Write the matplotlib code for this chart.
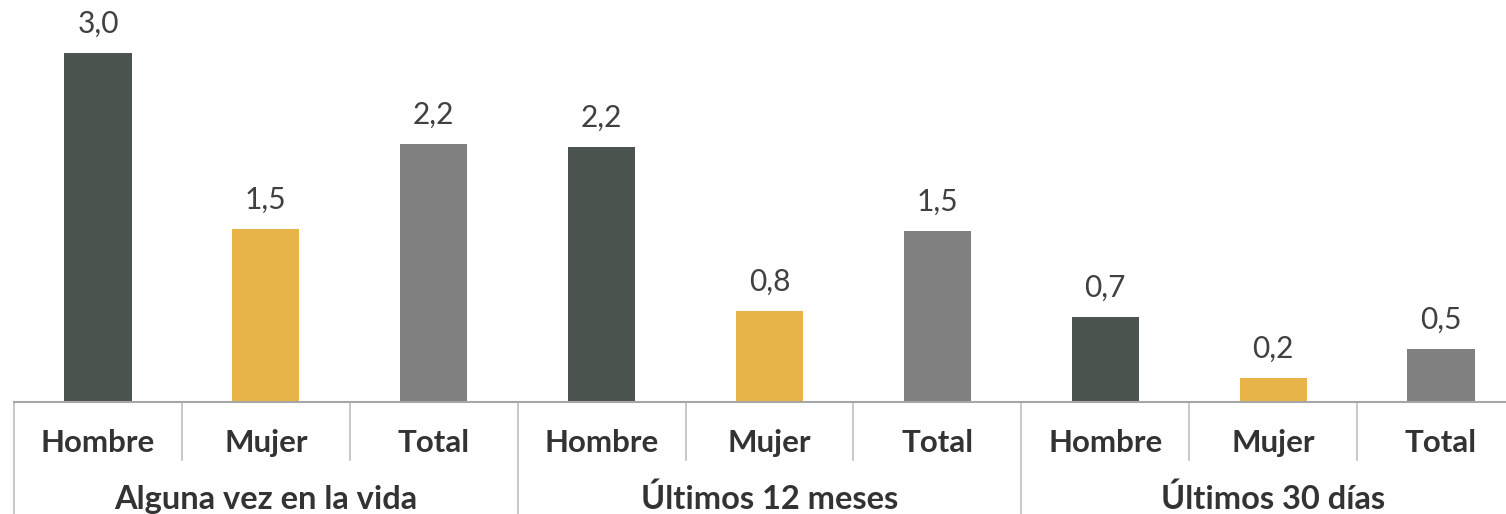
import numpy as np
import matplotlib
matplotlib.use("Agg")
import matplotlib.pyplot as plt
import matplotlib.transforms as mtransforms

# Data
groups = ["Alguna vez en la vida", "Últimos 12 meses", "Últimos 30 días"]
sexes = ["Hombre", "Mujer", "Total"]
values = [3.0, 1.49, 2.22, 2.19, 0.78, 1.47, 0.73, 0.21, 0.46]
labels = ["3,0", "1,5", "2,2", "2,2", "0,8", "1,5", "0,7", "0,2", "0,5"]
colors = ["#4a534d", "#e8b44a", "#808080"]

plt.rcParams['font.family'] = ['Lato', 'DejaVu Sans']

W, H = 1506, 514
fig = plt.figure(figsize=(W / 100, H / 100), dpi=100)

# axes spans past the right edge, the reference is cropped there
left_px, right_px = 14, 1525
base_px, top_px = 402, 7
ax = fig.add_axes([left_px / W, (H - base_px) / H,
                   (right_px - left_px) / W, (base_px - top_px) / H])
ax_h = base_px - top_px

x = np.arange(len(values))
bar_colors = [colors[i % 3] for i in x]
ax.bar(x, values, width=0.4, color=bar_colors, zorder=2)

for xi, v, lab in zip(x, values, labels):
    ax.annotate(lab, (xi, v), xytext=(0, 21), textcoords='offset points',
                ha='center', va='center', fontsize=21.5, color='#404040')

ax.set_xlim(-0.5, len(values) - 0.5)
ax.set_ylim(0, ax_h / 116.3)
ax.set_xticks([])
ax.set_yticks([])
for s in ['left', 'right', 'top']:
    ax.spines[s].set_visible(False)
ax.spines['bottom'].set_color('#a6a6a6')
ax.spines['bottom'].set_linewidth(1.5)

trans = mtransforms.blended_transform_factory(ax.transData, ax.transAxes)
line_kw = dict(color='#bfbfbf', lw=1.2, transform=trans, clip_on=False)

# short dividers between categories inside a group
for g in range(3):
    for k in (0.5, 1.5):
        xp = g * 3 + k
        ax.plot([xp, xp], [0, -58 / ax_h], **line_kw)
# long dividers between groups
for xp in [-0.5, 2.5, 5.5, 8.5]:
    ax.plot([xp, xp], [0, -115 / ax_h], **line_kw)

for xi in x:
    ax.text(xi, -41 / ax_h, sexes[xi % 3], transform=trans, ha='center',
            va='center', fontsize=22.5, fontweight='bold', color='#333333')
for g, name in enumerate(groups):
    ax.text(g * 3 + 1, -97 / ax_h, name, transform=trans, ha='center',
            va='center', fontsize=23.5, fontweight='bold', color='#333333')

fig.savefig("out.png", dpi=100)
